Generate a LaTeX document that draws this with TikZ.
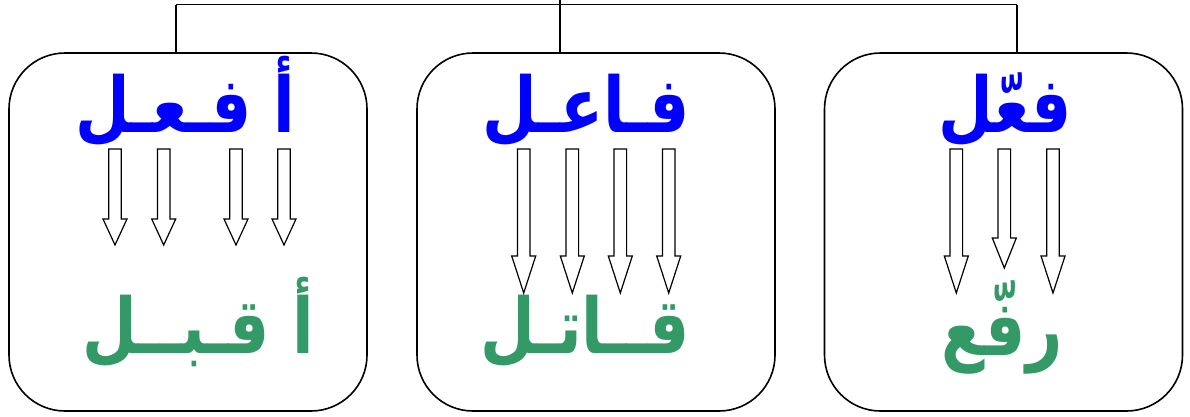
\documentclass[tikz,border=0pt]{standalone}
\usepackage{graphicx}
\usepackage{fontspec}
\newfontfamily\arabicfont[Script=Arabic]{DejaVu Sans}
\TeXXeTstate=1
\definecolor{wordblue}{RGB}{0,0,255}
\definecolor{wordgreen}{RGB}{51,153,102}
\newcommand{\tallword}[1]{\scalebox{1}[1.22]{\beginR #1\endR}}
\tikzset{
  box/.style={draw=black, line width=1.6pt, rounded corners=56pt, minimum width=358pt, minimum height=358pt, inner sep=0pt},
  link/.style={draw=black, line width=1.5pt},
  pattern word/.style={text=wordblue, anchor=base, inner sep=0pt, font=\arabicfont\bfseries\fontsize{63}{70}\selectfont},
  root word/.style={text=wordgreen, anchor=base, inner sep=0pt, font=\arabicfont\bfseries\fontsize{63}{70}\selectfont},
  hollow/.style={draw=black, fill=white, line width=1.2pt, line join=miter},
  pics/darrow/.style args={#1/#2}{code={
    \path[hollow] (-6.3,0) -- (6.3,0) -- (6.3,#1) -- (12,#1) -- (0,#2) -- (-12,#1) -- (-6.3,#1) -- cycle;
  }}
}
\begin{document}
\begin{tikzpicture}[x=1pt,y=-1pt]
\useasboundingbox (0,0) rectangle (1190,416);
% boxes
\node[box] (b1) at (188,232) {};
\node[box] (b2) at (596,232) {};
\node[box] (b3) at (1003.5,232) {};
% connectors
\coordinate (h1) at (176,4.5);
\coordinate (h3) at (1017,4.5);
\coordinate (top) at (560,0);
\draw[link] (h1) -- (h3);
\draw[link] (h1) -- (h1 |- b1.north);
\draw[link] (h3) -- (h3 |- b3.north);
\draw[link] (top) -- (top |- b2.north);
% words
\node[pattern word] (p1) at (185,132) {\tallword{أ فـعـل}};
\node[root word] (r1) at (198,353) {\tallword{أ قـبــل}};
\node[pattern word] (p2) at (586,132) {\tallword{فـاعـل}};
\node[root word] (r2) at (585,353) {\tallword{قــاتـل}};
\node[pattern word] (p3) at (1005,132) {\tallword{فعّل}};
\node[root word] (r3) at (1002,355) {\tallword{رفّع}};
% arrows
\pic at (115,149) {darrow={70/96}};
\pic at (163.7,149) {darrow={70/96}};
\pic at (236,149) {darrow={70/96}};
\pic at (284,149) {darrow={70/96}};
\pic at (523.7,149) {darrow={107/144}};
\pic at (572.3,149) {darrow={107/144}};
\pic at (620.3,149) {darrow={107/144}};
\pic at (668.7,149) {darrow={107/144}};
\pic at (956.3,149) {darrow={107/144}};
\pic at (1004.3,149) {darrow={89/119}};
\pic at (1053,149) {darrow={107/144}};
\end{tikzpicture}
\end{document}
